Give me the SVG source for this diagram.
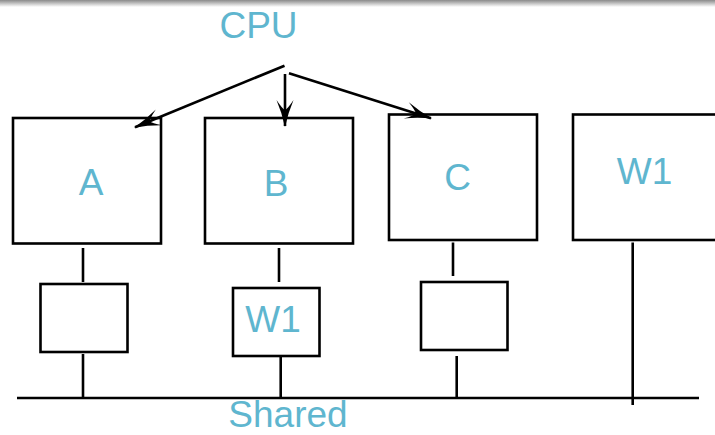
<svg xmlns="http://www.w3.org/2000/svg" width="715" height="435" viewBox="0 0 715 435">
<style>
.box{fill:#fff;stroke:#000;stroke-width:2.6}
.ln{fill:none;stroke:#000;stroke-width:2.6}
.lbl{font-family:"Liberation Sans",Arial,sans-serif;font-size:37px;fill:#5fb6cf;text-anchor:middle}
</style>
<defs>
<linearGradient id="topShade" x1="0" y1="0" x2="0" y2="1">
<stop offset="0" stop-color="#8a8a8a"/>
<stop offset="1" stop-color="#ffffff"/>
</linearGradient>
<marker id="arr" markerUnits="userSpaceOnUse" markerWidth="32" markerHeight="22" viewBox="-28 -11 32 22" refX="0" refY="0" orient="auto">
<path d="M1,0 Q-13,-3 -26,-8.5 Q-17,-2.5 -16,0 Q-17,2.5 -26,8.5 Q-13,3 1,0 Z" fill="#000"/>
</marker>
</defs>
<rect x="0" y="0" width="715" height="7" fill="url(#topShade)"/>
<g id="cpu">
<text class="lbl" x="258.5" y="38">CPU</text>
</g>
<g id="nodeA">
<rect class="box" x="13" y="118" width="148" height="125.5"/>
<text class="lbl" x="91" y="194.5">A</text>
</g>
<g id="nodeB">
<rect class="box" x="205" y="118" width="148" height="125.5"/>
<text class="lbl" x="276" y="196">B</text>
</g>
<g id="nodeC">
<rect class="box" x="389" y="114.5" width="148" height="125.5"/>
<text class="lbl" x="457.5" y="190">C</text>
</g>
<g id="nodeW1">
<rect class="box" x="573" y="114.5" width="150" height="125.5"/>
<text class="lbl" x="644.5" y="183.5">W1</text>
</g>
<g id="smallA">
<rect class="box" x="40.5" y="284" width="87" height="68"/>
</g>
<g id="smallB">
<rect class="box" x="233" y="288" width="86.5" height="68"/>
<text class="lbl" x="273" y="331.5">W1</text>
</g>
<g id="smallC">
<rect class="box" x="421" y="282" width="86.5" height="68"/>
</g>
<g id="shared">
<line class="ln" x1="17" y1="398" x2="699" y2="398"/>
<text class="lbl" x="288" y="427">Shared</text>
</g>
<g id="connectors">
<line class="ln" x1="284.5" y1="65.7" x2="135" y2="127.3" marker-end="url(#arr)"/>
<line class="ln" x1="285" y1="74" x2="285" y2="126" marker-end="url(#arr)"/>
<line class="ln" x1="289" y1="73.3" x2="431" y2="118.2" marker-end="url(#arr)"/>
<line class="ln" x1="83" y1="248" x2="83" y2="282"/>
<line class="ln" x1="83" y1="354" x2="83" y2="398"/>
<line class="ln" x1="279" y1="248" x2="279" y2="282"/>
<line class="ln" x1="280.7" y1="357" x2="280.7" y2="398"/>
<line class="ln" x1="453" y1="242.5" x2="453" y2="276"/>
<line class="ln" x1="456.7" y1="356" x2="456.7" y2="398"/>
<line class="ln" x1="632.7" y1="242.5" x2="632.7" y2="405"/>
</g>
</svg>
